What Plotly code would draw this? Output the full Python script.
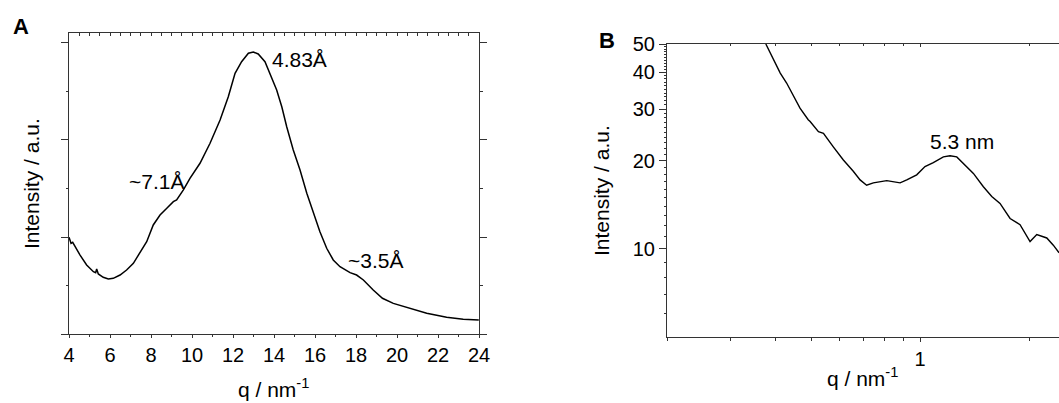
import numpy as np
import plotly.graph_objects as go

# ---------------- Panel A data (WAXS) ----------------
qA = [4.00, 4.10, 4.18, 4.29, 4.54, 4.86, 5.19, 5.30, 5.35, 5.43, 5.67, 5.92, 6.16, 6.49,
      6.81, 7.14, 7.46, 7.79, 8.11, 8.44, 8.77, 9.09, 9.25, 9.58, 9.90, 10.39, 10.88,
      11.37, 11.77, 12.10, 12.42, 12.75, 12.99, 13.23, 13.56, 13.80, 14.13, 14.38, 14.62,
      14.94, 15.27, 15.60, 15.92, 16.24, 16.57, 16.89, 17.22, 17.71, 18.03, 18.36, 18.84,
      19.29, 19.82, 20.63, 21.45, 22.42, 23.23, 23.99]
IA = [0.997, 0.935, 0.945, 0.900, 0.814, 0.711, 0.642, 0.632, 0.670, 0.619, 0.585, 0.567,
      0.574, 0.608, 0.660, 0.729, 0.832, 0.952, 1.124, 1.227, 1.296, 1.364, 1.381, 1.485,
      1.605, 1.760, 1.966, 2.206, 2.446, 2.688, 2.807, 2.894, 2.907, 2.887, 2.807, 2.688,
      2.515, 2.343, 2.137, 1.897, 1.691, 1.451, 1.244, 1.055, 0.884, 0.763, 0.694, 0.632,
      0.608, 0.557, 0.454, 0.368, 0.316, 0.265, 0.213, 0.172, 0.152, 0.144]
xticksA = [4, 6, 8, 10, 12, 14, 16, 18, 20, 22, 24]
yticksA = [0, 1, 2, 3]
labelsA = [("4.83Å", 13.80, 2.835), ("~7.1Å", 6.83, 1.577), ("~3.5Å", 17.51, 0.753)]

# ---------------- Panel B data (SAXS) ----------------
qB = [0.375, 0.393, 0.411, 0.428, 0.447, 0.466, 0.491, 0.497, 0.524, 0.541, 0.576, 0.614,
      0.654, 0.683, 0.712, 0.743, 0.809, 0.881, 0.919, 0.979, 1.032, 1.088, 1.160, 1.210,
      1.263, 1.317, 1.404, 1.496, 1.578, 1.663, 1.773, 1.889, 2.013, 2.101, 2.239, 2.334, 2.421]
IB = [50.0, 44.2, 39.8, 36.8, 33.1, 30.2, 27.6, 27.2, 25.1, 24.8, 22.3, 20.1, 18.4, 17.2,
      16.5, 16.8, 17.1, 16.8, 17.2, 17.9, 19.1, 19.7, 20.6, 20.8, 20.6, 19.6, 18.1, 16.3,
      15.1, 14.3, 12.7, 12.1, 10.6, 11.2, 10.9, 10.3, 9.7]
yticksB = [10, 20, 30, 40, 50]
yminorB = [6, 7, 8, 9] + list(range(11, 20)) + list(range(21, 30)) + list(range(31, 40)) + list(range(41, 50))
xticksB = [1]
xminorB = [0.2, 0.3, 0.4, 0.5, 0.6, 0.7, 0.8, 0.9, 2]
labelB = ("5.3 nm", 1.052, 23.2)

W, H = 1059, 403
FONT = "Liberation Sans, Arial, sans-serif"
AX = "#333333"

def px(x):
    return x / W

def py(y):
    return 1 - y / H

fig = go.Figure()
fig.add_trace(go.Scatter(x=qA, y=IA, mode="lines", line=dict(color="black", width=1.5),
                         xaxis="x", yaxis="y", showlegend=False))
fig.add_trace(go.Scatter(x=[], y=[], xaxis="x3", yaxis="y", showlegend=False))
fig.add_trace(go.Scatter(x=qB, y=IB, mode="lines", line=dict(color="black", width=1.4),
                         xaxis="x2", yaxis="y2", showlegend=False))
fig.add_trace(go.Scatter(x=[], y=[], xaxis="x4", yaxis="y2", showlegend=False))

tickfont = dict(family=FONT, size=20, color="black")

fig.update_layout(
    width=W, height=H, margin=dict(l=0, r=0, t=0, b=0, autoexpand=False),
    paper_bgcolor="white", plot_bgcolor="white",
    font=dict(family=FONT, color="black"),
    xaxis=dict(domain=[px(69), px(479)], range=[4, 24], anchor="y", automargin=False,
               tickvals=xticksA, ticks="outside", ticklen=3, tickwidth=1, tickcolor=AX,
               minor=dict(dtick=1, tick0=4, ticks="outside", ticklen=2, tickcolor=AX),
               showline=True, linecolor=AX, linewidth=1, mirror=True,
               showgrid=False, zeroline=False, tickfont=tickfont),
    xaxis3=dict(overlaying="x", side="top", range=[4, 24], anchor="y", automargin=False,
                tickmode="linear", tick0=4, dtick=0.5, ticks="inside", ticklen=3,
                tickcolor=AX, showticklabels=False, showline=False, showgrid=False,
                zeroline=False),
    yaxis=dict(domain=[py(334), py(33)], range=[0, 3.103], anchor="x", automargin=False,
               tickvals=yticksA, showticklabels=False, ticks="outside", ticklen=7,
               tickcolor=AX, minor=dict(dtick=0.5, tick0=0, ticks="outside", ticklen=2.5, tickcolor=AX),
               showline=True, linecolor=AX, linewidth=1, mirror="ticks",
               showgrid=False, zeroline=False),
    xaxis2=dict(domain=[px(667), 1.0], type="log", range=[np.log10(0.2), np.log10(2.42)],
                anchor="y2", automargin=False, tickvals=xticksB, ticktext=["1"],
                ticks="outside", ticklen=4, tickcolor=AX,
                minor=dict(tickmode="array", tickvals=xminorB, ticks="outside",
                           ticklen=3, tickcolor=AX),
                showline=True, linecolor=AX, linewidth=1, mirror=True,
                showgrid=False, zeroline=False, tickfont=tickfont),
    xaxis4=dict(overlaying="x2", side="top", type="log", range=[np.log10(0.2), np.log10(2.42)],
                anchor="y2", automargin=False, tickvals=xticksB, ticks="inside", ticklen=3,
                tickcolor=AX,
                minor=dict(tickmode="array", tickvals=xminorB, ticks="inside", ticklen=2, tickcolor=AX),
                showticklabels=False, showline=False, showgrid=False, zeroline=False),
    yaxis2=dict(domain=[py(336.7), py(44)], type="log", range=[np.log10(5.02), np.log10(50)],
                anchor="x2", automargin=False, tickvals=yticksB, ticks="outside", ticklen=7,
                tickcolor=AX,
                minor=dict(tickmode="array", tickvals=yminorB, ticks="outside", ticklen=2.5,
                           tickcolor=AX),
                showline=True, linecolor=AX, linewidth=1,
                showgrid=False, zeroline=False, tickfont=tickfont),
)

ann = []
for txt, x, y in labelsA:
    ann.append(dict(text=txt, x=x, y=y, xref="x", yref="y", xanchor="left", yanchor="middle",
                    showarrow=False, font=dict(family=FONT, size=21, color="black")))
ann.append(dict(text=labelB[0], x=np.log10(labelB[1]), y=np.log10(labelB[2]), xref="x2", yref="y2",
                xanchor="left", yanchor="middle", showarrow=False,
                font=dict(family=FONT, size=21, color="black")))

def paper_text(txt, x, y, angle=0, size=21):
    return dict(text=txt, x=px(x), y=py(y), xref="paper", yref="paper",
                xanchor="center", yanchor="middle", textangle=angle, showarrow=False,
                font=dict(family=FONT, size=size, color="black"))

# axis titles
ann.append(paper_text("Intensity / a.u.", 31, 184, -90))
ann.append(paper_text("Intensity / a.u.", 602, 191, -90))
ann.append(paper_text("q / nm<sup>-1</sup>", 273, 388))
ann.append(paper_text("q / nm<sup>-1</sup>", 862, 377))
# panel letters
ann.append(paper_text("<b>A</b>", 21, 27, 0, 22))
ann.append(paper_text("<b>B</b>", 607, 40, 0, 22))
fig.update_layout(annotations=ann)

fig.write_html("out.html")
